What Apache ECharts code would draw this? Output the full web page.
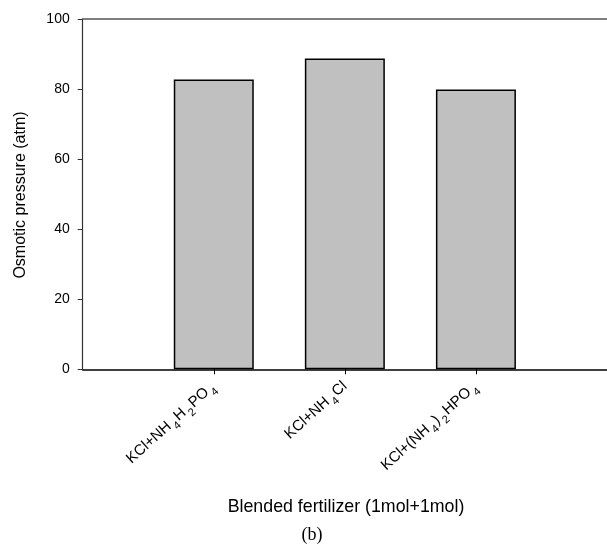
<!DOCTYPE html>
<html>
<head>
<meta charset="utf-8">
<script src="https://cdn.jsdelivr.net/npm/echarts@6/dist/echarts.min.js"></script>
<style>html,body{margin:0;padding:0;background:#fff}#c{width:607px;height:547px}</style>
</head>
<body>
<div id="c"></div>
<script>
// Data
var categories = ['KCl+NH_4H_2PO_4', 'KCl+NH_4Cl', 'KCl+(NH_4)_2HPO_4'];
var positions = [1, 2, 3];
var values = [82.7, 88.7, 79.9];
var yTicks = [0, 20, 40, 60, 80, 100];
var xTitle = 'Blended fertilizer (1mol+1mol)';
var yTitle = 'Osmotic pressure (atm)';
var panelLabel = '(b)';

function toRich(s) {
  var parts = s.split(/_(\d)/);
  var out = '';
  for (var i = 0; i < parts.length; i++) {
    if (!parts[i]) continue;
    out += (i % 2 === 0 ? '{m|' : '{s|') + parts[i] + '}';
  }
  return out;
}

var chart = echarts.init(document.getElementById('c'), null, {renderer: 'canvas'});
var font = 'Liberation Sans, Arial, sans-serif';
var option = {
  animation: false,
  grid: {left: 82.7, top: 19, width: 528, bottom: 177.7, containLabel: false},
  xAxis: [{
    type: 'value', min: 0, max: 4, position: 'bottom',
    axisLine: {show: true, lineStyle: {color: '#000', width: 1.5}},
    axisTick: {show: true, length: 5, customValues: positions, lineStyle: {color: '#000'}},
    splitLine: {show: false},
    axisLabel: {
      customValues: positions, rotate: 42, margin: 15,
      formatter: function (v) { var i = positions.indexOf(v); return i >= 0 ? toRich(categories[i]) : ''; },
      rich: {
        m: {fontFamily: font, fontSize: 15, color: '#000', lineHeight: 24, verticalAlign: 'middle'},
        s: {fontFamily: font, fontSize: 11, color: '#000', lineHeight: 11, verticalAlign: 'bottom', padding: [0, 1, 0, 2]}
      }
    }
  }, {
    type: 'value', min: 0, max: 4, position: 'top',
    axisLine: {show: true, lineStyle: {color: '#555', width: 1.5}},
    axisTick: {show: false}, axisLabel: {show: false}, splitLine: {show: false}
  }],
  yAxis: {
    type: 'value', min: yTicks[0], max: yTicks[yTicks.length - 1], interval: 20,
    axisLine: {show: true, lineStyle: {color: '#333', width: 1.2}},
    axisTick: {show: true, length: 5, lineStyle: {color: '#333'}},
    splitLine: {show: false},
    axisLabel: {fontFamily: font, fontSize: 14, color: '#000', margin: 13}
  },
  series: [{
    type: 'bar',
    xAxisIndex: 0,
    barWidth: 80,
    data: positions.map(function (p, i) { return [p, values[i]]; }),
    itemStyle: {color: '#c0c0c0', borderColor: '#000', borderWidth: 1.5}
  }],
  graphic: [
    {type: 'text', x: 21, y: 195, rotation: Math.PI / 2,
     style: {text: yTitle, font: '16px ' + font, fill: '#000', align: 'center', verticalAlign: 'middle'}},
    {type: 'text', x: 346, y: 507,
     style: {text: xTitle, font: '17.8px ' + font, fill: '#000', align: 'center', verticalAlign: 'middle'}},
    {type: 'text', x: 312, y: 535,
     style: {text: panelLabel, font: '18px Liberation Serif, Times New Roman, serif', fill: '#000', align: 'center', verticalAlign: 'middle'}}
  ]
};
chart.setOption(option);
</script>
</body>
</html>
